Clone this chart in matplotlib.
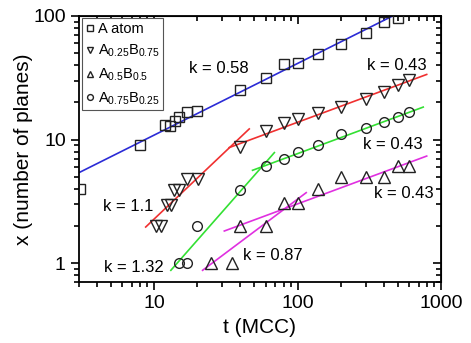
import matplotlib
matplotlib.use("Agg")
import matplotlib.pyplot as plt
import numpy as np
from matplotlib.ticker import LogLocator, NullFormatter, FixedLocator, FixedFormatter

plt.rcParams["font.family"] = ["Liberation Sans", "DejaVu Sans"]
plt.rcParams["mathtext.fontset"] = "custom"
plt.rcParams["mathtext.rm"] = "Liberation Sans"
plt.rcParams["mathtext.it"] = "Liberation Sans"

# data: t (MCC) vs x (number of planes)
a_atom_t = [3.05, 8, 12, 13, 14, 15, 17, 20, 40, 60, 80, 100, 140, 200, 300, 400, 500]
a_atom_x = [4.0, 9.0, 13.1, 12.8, 14.1, 15.1, 16.7, 16.9, 25, 31.6, 40.7, 41.3, 49.7, 59.8, 72.9, 89, 96]

a25_t = [10.3, 11.2, 12.3, 13.1, 13.8, 15, 17.1, 20.1, 40, 60, 80, 100, 140, 200, 300, 400, 500, 600]
a25_x = [2.0, 2.0, 2.95, 2.95, 3.9, 3.9, 4.8, 4.8, 8.7, 11.7, 13.5, 14.8, 16.4, 18.4, 21.2, 24.3, 27.5, 30.2]

a50_t = [25, 35, 40, 60, 80, 100, 140, 200, 300, 400, 500, 600]
a50_x = [1.0, 1.0, 2.0, 2.0, 3.05, 3.05, 4.0, 5.0, 5.0, 5.0, 6.1, 6.1]

a75_t = [15, 17, 20, 40, 60, 80, 100, 140, 200, 300, 400, 500, 600]
a75_x = [1.0, 1.0, 2.0, 3.9, 6.1, 6.9, 7.9, 9.0, 11.0, 12.3, 13.9, 15.1, 16.7]

# power-law fits x ~ t^k : start t, end t, x at start, exponent
fit_t0 = [3.0, 8.75, 33.4, 13.1, 48.6, 21.8, 30.9]
fit_t1 = [463, 46.1, 795, 69, 752, 115, 795]
fit_x0 = [5.4, 1.96, 8.61, 0.875, 5.64, 0.875, 1.82]
fit_k = [0.58, 1.1, 0.43, 1.32, 0.43, 0.87, 0.43]
fit_colors = ["#2b2bd6", "#f03030", "#f03030", "#33e033", "#33e033", "#e030e0", "#e030e0"]

k_labels = ["k = 0.58", "k = 0.43", "k = 0.43", "k = 0.43", "k = 1.1", "k = 1.32", "k = 0.87"]
k_label_t = [28.5, 490, 461, 551, 6.58, 7.2, 67.5]
k_label_x = [37.8, 40, 9.08, 3.67, 2.88, 0.925, 1.156]

INK = "#222222"

fig = plt.figure(figsize=(4.71, 3.43), dpi=100)
ax = fig.add_axes([0.1677, 0.177, 0.7686, 0.7764])
ax.set_xscale("log")
ax.set_yscale("log")
ax.set_xlim(3, 1000)
ax.set_ylim(0.7, 100)

for t0, t1, x0, k, c in zip(fit_t0, fit_t1, fit_x0, fit_k, fit_colors):
    ts = np.array([t0, t1])
    ax.plot(ts, x0 * (ts / t0) ** k, color=c, linewidth=1.2, zorder=2)

mk = dict(linestyle="none", markerfacecolor="none", markeredgecolor=INK,
          markeredgewidth=1.0, zorder=3)
ax.plot(a_atom_t, a_atom_x, marker="s", markersize=6.5, label="A atom", **mk)
ax.plot(a25_t, a25_x, marker="v", markersize=8, label=r"A$_{0.25}$B$_{0.75}$", **mk)
ax.plot(a50_t, a50_x, marker="^", markersize=8, label=r"A$_{0.5}$B$_{0.5}$", **mk)
ax.plot(a75_t, a75_x, marker="o", markersize=7, label=r"A$_{0.75}$B$_{0.25}$", **mk)

for lab, t, x in zip(k_labels, k_label_t, k_label_x):
    ax.text(t, x, lab, fontsize=12, ha="center", va="center", color="black", zorder=4)

leg = ax.legend(loc="upper left", bbox_to_anchor=(0.008, 0.992), borderaxespad=0,
                fontsize=10.5, markerscale=0.6, handlelength=0.55, handletextpad=0.3,
                labelspacing=0.5, borderpad=0.25, fancybox=False, framealpha=1)
leg.get_frame().set_edgecolor("#555555")
leg.get_frame().set_linewidth(0.8)

ax.xaxis.set_major_locator(FixedLocator([10, 100, 1000]))
ax.xaxis.set_major_formatter(FixedFormatter(["10", "100", "1000"]))
ax.yaxis.set_major_locator(FixedLocator([1, 10, 100]))
ax.yaxis.set_major_formatter(FixedFormatter(["1", "10", "100"]))
for axis in (ax.xaxis, ax.yaxis):
    axis.set_minor_locator(LogLocator(base=10, subs=np.arange(2, 10)))
    axis.set_minor_formatter(NullFormatter())

ax.tick_params(which="both", direction="out", labelsize=14, width=1.2, colors="black")
ax.tick_params(which="major", length=6)
ax.tick_params(which="minor", length=3.5)
for s in ax.spines.values():
    s.set_linewidth(1.3)

# mirrored ticks pointing inward on top and right
top = ax.secondary_xaxis("top")
top.set_xscale("log")
right = ax.secondary_yaxis("right")
right.set_yscale("log")
for sec, axis in ((top, top.xaxis), (right, right.yaxis)):
    axis.set_major_locator(FixedLocator([10, 100, 1000] if sec is top else [1, 10, 100]))
    axis.set_minor_locator(LogLocator(base=10, subs=np.arange(2, 10)))
    axis.set_major_formatter(NullFormatter())
    axis.set_minor_formatter(NullFormatter())
    sec.tick_params(which="both", direction="in", width=1.2)
    sec.tick_params(which="major", length=6)
    sec.tick_params(which="minor", length=3.5)

ax.set_xlabel("t (MCC)", fontsize=15, labelpad=4)
ax.set_ylabel("x (number of planes)", fontsize=15, labelpad=0)

fig.savefig("out.png", dpi=100)
